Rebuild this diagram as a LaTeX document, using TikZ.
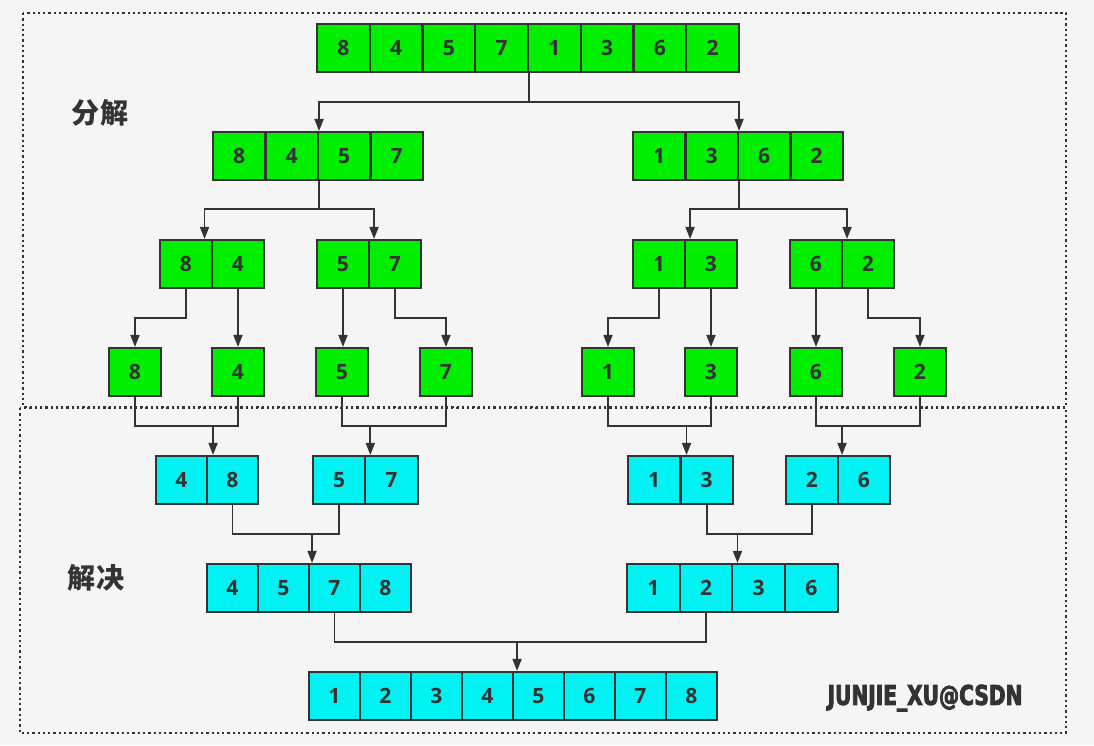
\documentclass[tikz,border=0pt]{standalone}
\usepackage{fontspec}
\setmainfont{Open Sans}
\newfontfamily\cjkfont{Noto Sans CJK SC}
\newfontfamily\markfont[FakeStretch=0.74,FakeBold=3]{DejaVu Sans}
\usetikzlibrary{arrows.meta}
\definecolor{linegray}{HTML}{333333}
\definecolor{bggray}{HTML}{F5F5F5}
\definecolor{splitgreen}{HTML}{00EE00}
\definecolor{mergecyan}{HTML}{00F2F2}
\begin{document}
\begin{tikzpicture}[x=0.02cm,y=-0.02cm]\tikzstyle{every node}=[font=\bfseries\fontsize{12}{14}\selectfont, text=linegray]
\tikzstyle{cell}=[draw=linegray, line width=1.2pt, minimum height=0.96cm, inner sep=0pt]
\tikzstyle{split}=[cell, fill=splitgreen]
\tikzstyle{merge}=[cell, fill=mergecyan]
\tikzstyle{link}=[draw=linegray, line width=0.95pt]
\tikzstyle{arr}=[link, -{Triangle[length=0.24cm, width=0.18cm]}]
\tikzstyle{frame}=[draw=linegray, line width=1.3pt, dash pattern=on 1.3pt off 1.7pt]
\path[fill=bggray, use as bounding box] (0,0) rectangle (1094,745);
\draw[frame] (23,13) rectangle (1066,407);
\draw[frame] (20,408) rectangle (1066,733);
%%%%%%%%%%%%%
\node[font=\cjkfont\bfseries\fontsize{16}{18}\selectfont] (splitlbl) at (100,113) {分解};
\node[font=\cjkfont\bfseries\fontsize{16}{18}\selectfont] (mergelbl) at (96,578) {解决};
\node[font=\markfont\bfseries\fontsize{15.5}{17}\selectfont] (mark) at (925,698) {JUNJIE\_XU@CSDN};
%%%%%%%%%%%%%
\foreach \v [count=\i] in {8,4,5,7,1,3,6,2}
  \node[split, minimum width=1.055cm] (t\i) at ({317+(\i-0.5)*52.75},48) {\v};
\foreach \v [count=\i] in {8,4,5,7}
  \node[split, minimum width=1.05cm] (l\i) at ({213+(\i-0.5)*52.5},156) {\v};
\foreach \v [count=\i] in {1,3,6,2}
  \node[split, minimum width=1.05cm] (r\i) at ({633+(\i-0.5)*52.5},156) {\v};
\foreach \v [count=\i] in {8,4}
  \node[split, minimum width=1.04cm] (pa\i) at ({160+(\i-0.5)*52},264) {\v};
\foreach \v [count=\i] in {5,7}
  \node[split, minimum width=1.04cm] (pb\i) at ({317+(\i-0.5)*52},264) {\v};
\foreach \v [count=\i] in {1,3}
  \node[split, minimum width=1.04cm] (pc\i) at ({633+(\i-0.5)*52},264) {\v};
\foreach \v [count=\i] in {6,2}
  \node[split, minimum width=1.04cm] (pd\i) at ({790+(\i-0.5)*52},264) {\v};
\node[split, minimum width=1.04cm] (u8) at (135,372) {8};
\node[split, minimum width=1.04cm] (u4) at (238,372) {4};
\node[split, minimum width=1.04cm] (u5) at (342,372) {5};
\node[split, minimum width=1.04cm] (u7) at (446,372) {7};
\node[split, minimum width=1.04cm] (u1) at (608,372) {1};
\node[split, minimum width=1.04cm] (u3) at (711,372) {3};
\node[split, minimum width=1.04cm] (u6) at (816,372) {6};
\node[split, minimum width=1.04cm] (u2) at (920,372) {2};
%%%%%%%%%%%%%
\foreach \v [count=\i] in {4,8}
  \node[merge, minimum width=1.02cm] (ma\i) at ({156+(\i-0.5)*51},480) {\v};
\foreach \v [count=\i] in {5,7}
  \node[merge, minimum width=1.045cm] (mb\i) at ({313+(\i-0.5)*52.3},480) {\v};
\foreach \v [count=\i] in {1,3}
  \node[merge, minimum width=1.05cm] (mc\i) at ({628+(\i-0.5)*52.5},480) {\v};
\foreach \v [count=\i] in {2,6}
  \node[merge, minimum width=1.04cm] (md\i) at ({786+(\i-0.5)*52},480) {\v};
\foreach \v [count=\i] in {4,5,7,8}
  \node[merge, minimum width=1.02cm] (hl\i) at ({207+(\i-0.5)*51},588) {\v};
\foreach \v [count=\i] in {1,2,3,6}
  \node[merge, minimum width=1.055cm] (hr\i) at ({627+(\i-0.5)*52.7},588) {\v};
\foreach \v [count=\i] in {1,2,3,4,5,6,7,8}
  \node[merge, minimum width=1.02cm] (f\i) at ({309+(\i-0.5)*51},696) {\v};
%%%%%%%%%%%%%
\coordinate (railA) at (0,102);
\coordinate (railB) at (0,209);
\coordinate (railC) at (0,318);
\coordinate (railD) at (0,426);
\coordinate (railE) at (0,534);
\coordinate (railF) at (0,642);
%%%%%%%%%%%%%
\draw[arr] (t4.south east) -- (t4.south east |- railA) -| (l2.north east);
\draw[arr] (t4.south east) -- (t4.south east |- railA) -| (r2.north east);
\draw[arr] (l2.south east) -- (l2.south east |- railB) -| ([xshift=-0.17cm]pa1.north east);
\draw[arr] (l2.south east) -- (l2.south east |- railB) -| ([xshift=0.08cm]pb1.north east);
\draw[arr] (r2.south east) -- (r2.south east |- railB) -| ([xshift=0.08cm]pc1.north east);
\draw[arr] (r2.south east) -- (r2.south east |- railB) -| ([xshift=0.08cm]pd1.north east);
\draw[arr] (pa1.south) -- (pa1.south |- railC) -| (u8.north);
\draw[arr] (pa2.south) -- (pa2.south |- u4.north);
\draw[arr] (pb1.south) -- (pb1.south |- u5.north);
\draw[arr] (pb2.south) -- (pb2.south |- railC) -| (u7.north);
\draw[arr] (pc1.south) -- (pc1.south |- railC) -| (u1.north);
\draw[arr] (pc2.south) -- (pc2.south |- u3.north);
\draw[arr] (pd1.south) -- (pd1.south |- u6.north);
\draw[arr] (pd2.south) -- (pd2.south |- railC) -| (u2.north);
%%%%%%%%%%%%%
\draw[link] (u8.south) -- (u8.south |- railD) -| (u4.south);
\draw[link] (u5.south) -- (u5.south |- railD) -| (u7.south);
\draw[link] (u1.south) -- (u1.south |- railD) -| (u3.south);
\draw[link] (u6.south) -- (u6.south |- railD) -| (u2.south);
\draw[arr] ([xshift=0.1cm]ma1.north east |- railD) -- ([xshift=0.1cm]ma1.north east);
\draw[arr] ([xshift=0.08cm]mb1.north east |- railD) -- ([xshift=0.08cm]mb1.north east);
\draw[arr] ([xshift=0.1cm]mc1.north east |- railD) -- ([xshift=0.1cm]mc1.north east);
\draw[arr] ([xshift=0.06cm]md1.north east |- railD) -- ([xshift=0.06cm]md1.north east);
\draw[link] (ma2.south) -- (ma2.south |- railE) -| (mb1.south);
\draw[link] (mc2.south) -- (mc2.south |- railE) -| (md1.south);
\draw[arr] ([xshift=0.04cm]hl2.north east |- railE) -- ([xshift=0.04cm]hl2.north east);
\draw[arr] ([xshift=0.08cm]hr2.north east |- railE) -- ([xshift=0.08cm]hr2.north east);
\draw[link] (hl3.south) -- (hl3.south |- railF) -| (hr2.south);
\draw[arr] ([xshift=0.06cm]f4.north east |- railF) -- ([xshift=0.06cm]f4.north east);
\end{tikzpicture}
\end{document}
